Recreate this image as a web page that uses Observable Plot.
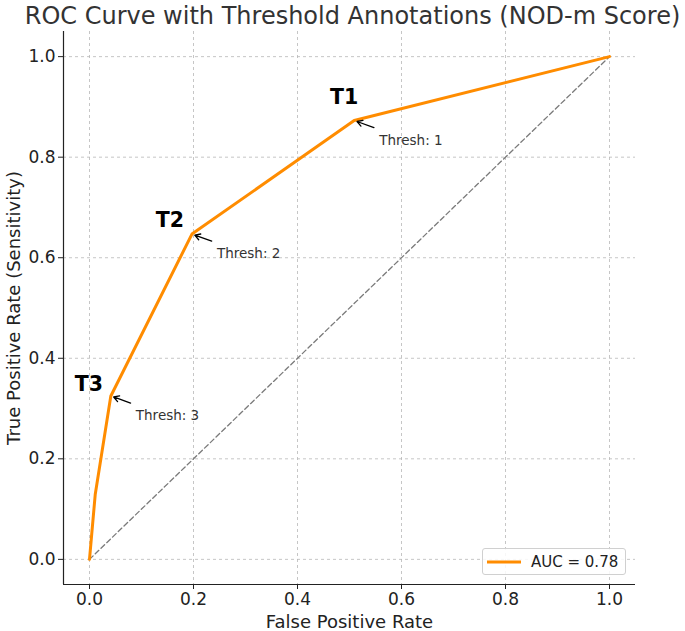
<!DOCTYPE html>
<html>
<head>
<meta charset="utf-8">
<script src="https://cdn.jsdelivr.net/npm/d3@7"></script>
<script src="https://cdn.jsdelivr.net/npm/@observablehq/plot@0.6"></script>
<style>
  html, body { margin: 0; padding: 0; background: #fff; }
  #wrap { position: relative; width: 685px; height: 631px; font-family: "DejaVu Sans", sans-serif; }
  #legend {
    position: absolute; left: 482px; top: 548px; width: 142px; height: 25px;
    border: 1px solid #d0d0d0; border-radius: 3px; background: rgba(255,255,255,0.85);
    display: flex; align-items: center; font-size: 15px; color: #222;
  }
  #legend svg { margin-left: 4px; margin-right: 10px; }
</style>
</head>
<body>
<div id="wrap">
  <div id="chart"></div>
  <div id="legend"></div>
</div>
<script>
// ROC operating points for the NOD-m score (false positive rate, true positive rate)
const fpr = [0, 0.011, 0.041, 0.197, 0.509, 1];
const tpr = [0, 0.129, 0.325, 0.647, 0.873, 1];

// Threshold cut-offs and their short tags, in the order they appear on the curve
const thresholdValues = [3, 2, 1];
const thresholdTags = ["T3", "T2", "T1"];
const thresholdFpr = [0.041, 0.197, 0.509];
const thresholdTpr = [0.325, 0.647, 0.873];

const ticks = [0, 0.2, 0.4, 0.6, 0.8, 1.0];
const aucLabel = "AUC = 0.78";
const title = "ROC Curve with Threshold Annotations (NOD-m Score)";
const xLabel = "False Positive Rate";
const yLabel = "True Positive Rate (Sensitivity)";

const roc = fpr.map((x, i) => ({x, y: tpr[i]}));
const thresholds = thresholdValues.map((v, i) => ({
  value: v, tag: thresholdTags[i], x: thresholdFpr[i], y: thresholdTpr[i]
}));

// pixel offsets of the bold tags relative to their points
const tagOffset = {T1: [-10, -23], T2: [-22, -14], T3: [-22, -12]};

const orange = "#ff8c00";
const gridStyle = {stroke: "#b8b8b8", strokeOpacity: 1, strokeWidth: 0.8, strokeDasharray: "3,3"};

const tagMarks = thresholds.map(d => Plot.text([d], {
  x: "x", y: "y", text: "tag",
  dx: tagOffset[d.tag][0], dy: tagOffset[d.tag][1],
  fontSize: 20.5, fontWeight: "bold", fill: "#000"
}));

const chart = Plot.plot({
  width: 685,
  height: 631,
  marginLeft: 63,
  marginRight: 50,
  marginTop: 31,
  marginBottom: 47,
  style: {fontFamily: "DejaVu Sans, sans-serif", fontSize: "17px", color: "#222", background: "#fff"},
  x: {domain: [-0.05, 1.05], label: null},
  y: {domain: [-0.05, 1.05], label: null},
  marks: [
    Plot.gridX(ticks, gridStyle),
    Plot.gridY(ticks, gridStyle),
    // chance diagonal
    Plot.line([{x: 0, y: 0}, {x: 1, y: 1}], {x: "x", y: "y", stroke: "#7a7a7a", strokeWidth: 1.3, strokeDasharray: "5,3"}),
    // ROC curve
    Plot.line(roc, {x: "x", y: "y", stroke: orange, strokeWidth: 3, strokeLinejoin: "miter"}),
    // arrows pointing from the threshold notes to their points
    Plot.arrow(thresholds, {
      x1: d => d.x + 0.038, y1: d => d.y - 0.014, x2: "x", y2: "y",
      stroke: "#000", strokeWidth: 1.3, headLength: 7, insetEnd: 3
    }),
    Plot.text(thresholds, {
      x: "x", y: "y", text: d => `Thresh: ${d.value}`,
      dx: 25, dy: 20, textAnchor: "start", fontSize: 13.5, fill: "#333"
    }),
    ...tagMarks,
    Plot.axisX(ticks, {tickSize: 5, tickPadding: 3, tickFormat: d3.format(".1f"), label: null, fontSize: 17}),
    Plot.axisY(ticks, {tickSize: 5, tickPadding: 3, tickFormat: d3.format(".1f"), label: null, fontSize: 17}),
    // left and bottom spines
    Plot.ruleX([-0.05], {stroke: "#222", strokeWidth: 1.2}),
    Plot.ruleY([-0.05], {stroke: "#222", strokeWidth: 1.2}),
    // titles
    Plot.text([title], {frameAnchor: "top", lineAnchor: "middle", textAnchor: "middle", dx: 3, dy: -15, fontSize: 24, fill: "#333"}),
    Plot.text([xLabel], {frameAnchor: "bottom", lineAnchor: "middle", textAnchor: "middle", dy: 38, fontSize: 18, fill: "#222"}),
    Plot.text([yLabel], {frameAnchor: "left", lineAnchor: "middle", textAnchor: "middle", dx: -49, rotate: -90, fontSize: 18, fill: "#222"})
  ]
});
document.getElementById("chart").appendChild(chart);

// legend entry for the ROC curve
const legend = document.getElementById("legend");
legend.innerHTML = `<svg width="34" height="6"><line x1="0" y1="3" x2="34" y2="3" stroke="${orange}" stroke-width="3"/></svg><span>${aucLabel}</span>`;
</script>
</body>
</html>
